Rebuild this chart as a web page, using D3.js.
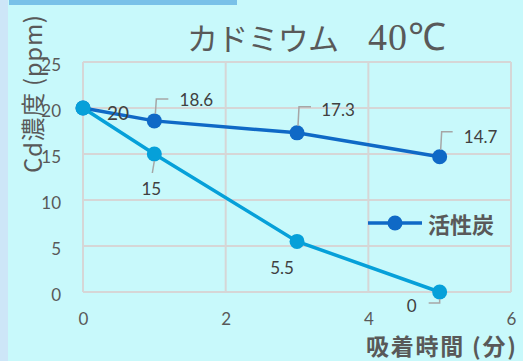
<!DOCTYPE html>
<html>
<head>
<meta charset="utf-8">
<script src="https://cdn.jsdelivr.net/npm/d3@7"></script>
<style>
  html, body { margin: 0; padding: 0; background: #c8f9fb; }
  svg { display: block; }
</style>
</head>
<body>
<svg id="chart" width="523" height="361"></svg>
<script>
// Adsorption times (minutes)
const times = [0, 1, 3, 5];
// Cd concentration (ppm) with activated carbon
const carbonValues = [20, 18.6, 17.3, 14.7];
// Cd concentration (ppm), second series
const otherValues = [20, 15, 5.5, 0];
const xTicks = [0, 2, 4, 6];
const yTicks = [0, 5, 10, 15, 20, 25];
const titleName = "カドミウム";
const titleTemp = "40℃";
const yTitle = "Cd濃度 (ppm)";
const xTitle = "吸着時間 (分)";
const legendLabel = "活性炭";

const svg = d3.select("#chart");
const W = 523, H = 361;
const plot = { left: 83, right: 511, top: 62, bottom: 292 };

const numFont = "Lato, 'Open Sans', sans-serif";
const cjkFont = "'Noto Sans CJK JP', sans-serif";
const darkBlue = "#0f69c6";
const lightBlue = "#06a0d9";
const gridColor = "#d6d6d6";
const textGray = "#595959";

// background, side strip and top band
svg.append("rect").attr("width", W).attr("height", H).attr("fill", "#c8f9fb");
svg.append("rect").attr("x", 0).attr("y", 0).attr("width", 8).attr("height", H).attr("fill", "#cde6f8");
svg.append("rect").attr("x", 9).attr("y", 0).attr("width", 228).attr("height", 5).attr("fill", "#79c1e8");

const x = d3.scaleLinear().domain([0, 6]).range([plot.left, plot.right]);
const y = d3.scaleLinear().domain([0, 25]).range([plot.bottom, plot.top]);

// gridlines
const grid = svg.append("g");
grid.selectAll("line.h").data(yTicks).join("line")
  .attr("x1", plot.left).attr("x2", plot.right)
  .attr("y1", d => y(d)).attr("y2", d => y(d))
  .attr("stroke", gridColor).attr("stroke-width", 2);
grid.selectAll("line.v").data(xTicks).join("line")
  .attr("y1", plot.top).attr("y2", plot.bottom)
  .attr("x1", d => x(d)).attr("x2", d => x(d))
  .attr("stroke", gridColor).attr("stroke-width", 2);

// y axis tick labels
const yAxis = d3.axisLeft(y).tickValues(yTicks).tickFormat(d3.format("d")).tickSize(0).tickPadding(0);
const gy = svg.append("g").attr("transform", `translate(${plot.left - 22},3)`).call(yAxis);
gy.select(".domain").remove();
gy.selectAll("text").attr("font-family", numFont).attr("font-size", 17).attr("fill", textGray);

// x axis tick labels
const xAxis = d3.axisBottom(x).tickValues(xTicks).tickFormat(d3.format("d")).tickSize(0).tickPadding(0);
const gx = svg.append("g").attr("transform", `translate(0,${plot.bottom + 21})`).call(xAxis);
gx.select(".domain").remove();
gx.selectAll("text").attr("font-family", numFont).attr("font-size", 17).attr("fill", textGray);

// title, in two parts
svg.append("text").attr("x", 187).attr("y", 50)
  .attr("font-family", cjkFont).attr("font-size", 31).attr("fill", textGray)
  .attr("textLength", 152).attr("lengthAdjust", "spacing").text(titleName);
svg.append("text").attr("x", 368).attr("y", 50)
  .attr("font-family", "'Liberation Serif', serif").attr("font-size", 38).attr("fill", textGray)
  .attr("letter-spacing", 1).text(titleTemp);

// axis titles
svg.append("text").attr("transform", "translate(42,173) rotate(-90)")
  .attr("font-family", cjkFont).attr("font-size", 24).attr("fill", textGray)
  .attr("textLength", 158).attr("lengthAdjust", "spacing").text(yTitle);
svg.append("text").attr("x", 366).attr("y", 355)
  .attr("font-family", cjkFont).attr("font-weight", "bold")
  .attr("font-size", 23).attr("fill", textGray)
  .attr("textLength", 150).attr("lengthAdjust", "spacing").text(xTitle);

const line = d3.line().x(d => x(d.t)).y(d => y(d.v));
function drawSeries(values, color) {
  const pts = times.map((t, i) => ({ t, v: values[i] }));
  const g = svg.append("g");
  g.append("path").datum(pts).attr("d", line)
    .attr("fill", "none").attr("stroke", color).attr("stroke-width", 3.5);
  g.selectAll("circle").data(pts).join("circle")
    .attr("cx", d => x(d.t)).attr("cy", d => y(d.v)).attr("r", 7.5).attr("fill", color);
  return pts;
}
const carbonPts = drawSeries(carbonValues, darkBlue);
const otherPts = drawSeries(otherValues, lightBlue);

// data labels with leader lines
const labelG = svg.append("g");
function label(pt, dx, dy, leader, size) {
  const px = x(pt.t), py = y(pt.v);
  if (leader) {
    labelG.append("path")
      .attr("d", leader.map((p, i) => (i ? "L" : "M") + (px + p[0]) + "," + (py + p[1])).join(""))
      .attr("fill", "none").attr("stroke", "#a6a6a6").attr("stroke-width", 1.5);
  }
  labelG.append("text").attr("x", px + dx).attr("y", py + dy)
    .attr("font-family", numFont).attr("font-size", size || 17).attr("fill", "#404040")
    .attr("text-anchor", "middle").attr("dominant-baseline", "central")
    .text(d3.format("")(pt.v));
}
label(carbonPts[0], 35, 4, null, 19);
label(carbonPts[1], 42, -21, [[1, -7], [2, -22], [14, -22]]);
label(carbonPts[2], 41, -23, [[1, -7], [2, -26], [14, -26]]);
label(carbonPts[3], 41, -20, [[1, -7], [2, -25], [13, -25]]);
label(otherPts[1], -3, 34, [[0, 7], [-2, 19]]);
label(otherPts[2], -15, 26, null);
label(otherPts[3], -28, 13, [[0, 7], [0, 11], [-11, 11]]);

// legend
const lg = svg.append("g");
lg.append("line").attr("x1", 368).attr("x2", 422).attr("y1", 223).attr("y2", 223)
  .attr("stroke", darkBlue).attr("stroke-width", 3.5);
lg.append("circle").attr("cx", 395).attr("cy", 223).attr("r", 7.5).attr("fill", darkBlue);
lg.append("text").attr("x", 428).attr("y", 223).attr("dominant-baseline", "central")
  .attr("font-family", cjkFont).attr("font-weight", "bold").attr("font-size", 22)
  .attr("fill", textGray).text(legendLabel);
</script>
</body>
</html>
